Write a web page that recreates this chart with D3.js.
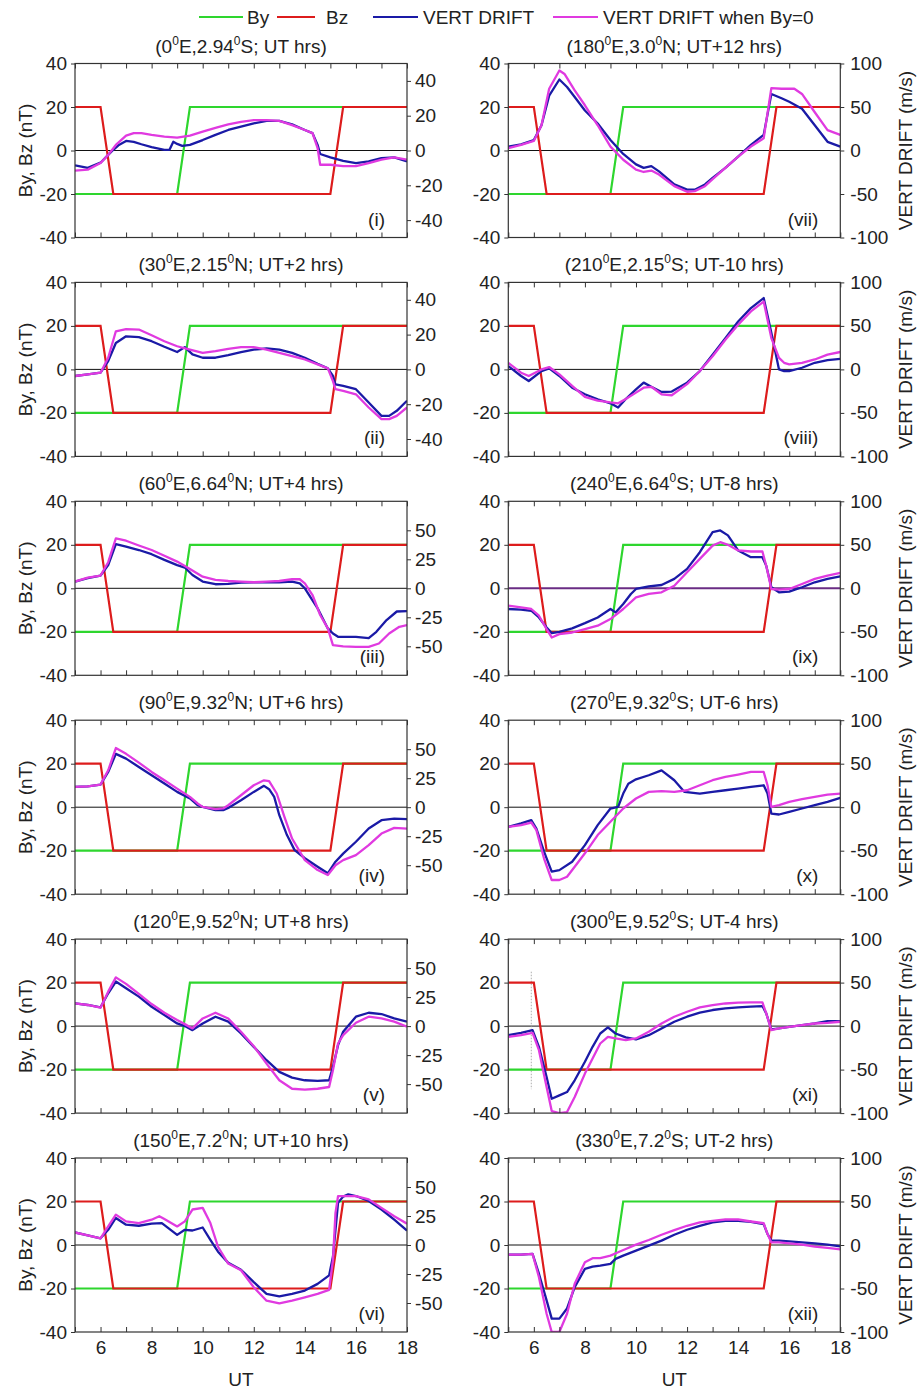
<!DOCTYPE html>
<html>
<head>
<meta charset="utf-8">
<script src="https://cdn.jsdelivr.net/npm/d3@7"></script>
<style>
  body { margin: 0; background: #fff; }
  text { font-family: "Liberation Sans", Arial, sans-serif; fill: #222; }
</style>
</head>
<body>
<div id="chart"></div>
<script>
// ---- data ----
const hourTicks = [5, 6, 7, 8, 9, 10, 11, 12, 13, 14, 15, 16, 17, 18];
const hourLabels = [6, 8, 10, 12, 14, 16, 18];
const leftTicks = [-40, -20, 0, 20, 40];

// IMF components (nT)
const byT = [5, 9, 9.5, 18];
const byV = [-20, -20, 20, 20];
const bzT = [5, 6, 6.5, 15, 15.5, 18];
const bzV = [20, 20, -20, -20, 20, 20];

const titles = [
  '(0^E,2.94^S; UT hrs)', '(30^E,2.15^N; UT+2 hrs)', '(60^E,6.64^N; UT+4 hrs)',
  '(90^E,9.32^N; UT+6 hrs)', '(120^E,9.52^N; UT+8 hrs)', '(150^E,7.2^N; UT+10 hrs)',
  '(180^E,3.0^N; UT+12 hrs)', '(210^E,2.15^S; UT-10 hrs)', '(240^E,6.64^S; UT-8 hrs)',
  '(270^E,9.32^S; UT-6 hrs)', '(300^E,9.52^S; UT-4 hrs)', '(330^E,7.2^S; UT-2 hrs)'
];
const romans = ['(i)', '(ii)', '(iii)', '(iv)', '(v)', '(vi)', '(vii)', '(viii)', '(ix)', '(x)', '(xi)', '(xii)'];
const rightMax = [50, 50, 75, 75, 75, 75, 100, 100, 100, 100, 100, 100];
const rightTicks = [
  [-40, -20, 0, 20, 40], [-40, -20, 0, 20, 40],
  [-50, -25, 0, 25, 50], [-50, -25, 0, 25, 50], [-50, -25, 0, 25, 50], [-50, -25, 0, 25, 50],
  [-100, -50, 0, 50, 100], [-100, -50, 0, 50, 100], [-100, -50, 0, 50, 100],
  [-100, -50, 0, 50, 100], [-100, -50, 0, 50, 100], [-100, -50, 0, 50, 100]
];

// vertical drift (m/s), [UT, value]
const vd_i = [[5,-8.5],[5.5,-10],[6,-7],[6.3,-2.5],[6.5,0.4],[6.7,3],[7,5.5],[7.3,5],[7.6,3.6],[8,2],[8.5,0.4],[8.7,0.4],[8.85,5],[9,3.8],[9.2,2.7],[9.5,3.2],[10,6],[10.5,9],[11,11.8],[11.5,13.7],[12,15.6],[12.5,17],[13,17],[13.5,15],[14,11.8],[14.3,10],[14.5,3.2],[14.6,-2],[15,-4],[15.5,-6],[16,-7.2],[16.5,-6.3],[17,-4.4],[17.5,-4],[18,-6.3]];
const vd0_i = [[5,-11.6],[5.5,-11],[6,-7.2],[6.3,-2.5],[6.6,3.2],[7,8.6],[7.3,10],[7.6,10],[8,9],[8.5,8],[9,7.4],[9.5,8.6],[10,10.8],[10.5,13],[11,15],[11.5,16.5],[12,17.5],[12.5,17.5],[13,17],[13.5,14.6],[14,11.8],[14.3,10],[14.5,1.3],[14.6,-8.2],[15,-8.2],[15.5,-9],[16,-9],[16.5,-7.2],[17,-5.3],[17.5,-4],[18,-5.3]];

const vd_ii = [[5,-3.8],[5.5,-2.9],[6,-1.9],[6.3,4.8],[6.6,15.2],[7,19],[7.5,18.5],[8,16.2],[8.5,13],[9,10],[9.3,12.8],[9.6,8.6],[10,6.7],[10.5,6.7],[11,8.2],[11.5,9.9],[12,11.4],[12.5,12],[13,11.4],[13.5,9.5],[14,6.7],[14.5,3.2],[14.9,0.6],[15.1,-3.8],[15.2,-8.6],[15.5,-9.5],[16,-11.4],[16.5,-19],[17,-26.7],[17.3,-26.7],[17.6,-23.8],[18,-18]];
const vd0_ii = [[5,-3.8],[5.5,-2.9],[6,-1.9],[6.3,6.7],[6.6,21.9],[7,23.2],[7.5,22.9],[8,19.6],[8.5,16.2],[9,13.3],[9.5,11.4],[10,9.5],[10.5,10.5],[11,11.8],[11.5,12.8],[12,12.8],[12.5,11.4],[13,9.5],[13.5,7.6],[14,5.7],[14.5,2.9],[14.9,0.6],[15.1,-6.7],[15.2,-11.4],[15.5,-12.4],[16,-14.3],[16.5,-21.9],[17,-28.6],[17.3,-28.6],[17.6,-26.7],[18,-21.9]];

const vd_iii = [[5,5.8],[5.5,8.7],[6,11],[6.3,20],[6.6,38],[7,36],[7.5,33],[8,29.4],[8.5,24.5],[9,20],[9.3,17.9],[9.6,11.5],[10,5.8],[10.5,3.5],[11,3.8],[11.5,4.9],[12,5.2],[12.5,5.2],[13,5.2],[13.5,5.8],[13.8,4.3],[14,0],[14.5,-17.3],[14.9,-34.6],[15.1,-39],[15.3,-41.8],[15.6,-41.8],[16,-41.8],[16.5,-43],[16.8,-37.5],[17.2,-27.4],[17.6,-20],[18,-19.6]];
const vd0_iii = [[5,5.8],[5.5,9.2],[6,11],[6.3,22.5],[6.6,43],[7,41],[7.5,36.9],[8,33],[8.5,28],[9,23],[9.5,16.7],[10,10],[10.5,7.2],[11,6.3],[11.5,5.8],[12,5.2],[12.5,5.8],[13,6.3],[13.5,7.8],[13.8,7.8],[14,4.3],[14.3,-5.8],[14.6,-23],[14.9,-34.6],[15.1,-49],[15.5,-50],[16,-50.5],[16.5,-50.5],[16.9,-47.6],[17.3,-39],[17.7,-33.2],[18,-31.7]];

const vd_iv = [[5,17.5],[5.5,18],[6,19.5],[6.3,30.4],[6.6,46],[7,41.9],[7.5,34.7],[8,27.5],[8.5,20.4],[9,13.2],[9.5,7.5],[9.8,1.7],[10,0.3],[10.5,-2.6],[10.8,-2.6],[11,-0.6],[11.5,6],[12,13.2],[12.4,18.4],[12.6,15.5],[12.8,8.9],[13,-6.9],[13.3,-24],[13.6,-37],[14,-44],[14.5,-51.3],[14.9,-57],[15.2,-47],[15.5,-40],[16,-29.8],[16.5,-18.4],[17,-11.2],[17.5,-9.8],[18,-10.3]];
const vd0_iv = [[5,17.5],[5.5,18],[6,19.5],[6.3,31.8],[6.6,51],[7,46],[7.5,38.4],[8,30.4],[8.5,23.2],[9,16],[9.5,8.9],[9.8,3.2],[10,0.3],[10.5,-1.7],[10.8,-1.1],[11,1.7],[11.5,10.3],[12,18.9],[12.4,23.2],[12.6,22.4],[12.9,11.8],[13.2,-8.3],[13.5,-27],[14,-45.6],[14.5,-54.2],[14.9,-58.5],[15.2,-50],[15.5,-45.6],[16,-41.3],[16.5,-32.7],[17,-22.7],[17.5,-17.8],[18,-18.4]];

const vd_v = [[5,19.6],[5.5,18.2],[6,16.2],[6.3,28.3],[6.6,38.4],[7,32.6],[7.5,25.4],[8,16.7],[8.5,9.5],[9,2.3],[9.3,0],[9.6,-3.5],[10,2.3],[10.5,8.1],[11,3.8],[11.5,-6.3],[12,-17.9],[12.5,-29.4],[13,-39.5],[13.5,-44.4],[14,-46.7],[14.5,-47.3],[14.95,-46.7],[15.1,-35.2],[15.3,-16.4],[15.5,-4.9],[16,8.1],[16.5,11.5],[17,10.4],[17.5,6.6],[18,3.8]];
const vd0_v = [[5,19.6],[5.5,18.2],[6,15.9],[6.3,29.7],[6.6,42],[7,36.4],[7.5,27.7],[8,19],[8.5,11.5],[9,5.2],[9.3,1.7],[9.6,-2],[10,6.6],[10.5,11.5],[11,6.6],[11.5,-4.9],[12,-17.3],[12.5,-32.3],[13,-46.7],[13.5,-54],[14,-54.8],[14.5,-54],[14.95,-52.5],[15.1,-38],[15.3,-15],[15.5,-7.8],[16,2.9],[16.5,8.1],[17,6.6],[17.5,3.8],[18,-0.6]];

const vd_vi = [[5,10.8],[5.5,8.2],[6,5.8],[6.3,13.1],[6.6,23.3],[7,17.5],[7.5,16.6],[8,18.4],[8.4,18.9],[9,8.7],[9.3,13.1],[9.6,12.5],[10,15.1],[10.3,4.4],[10.6,-5.8],[11,-15.4],[11.5,-21.3],[12,-32],[12.5,-42.2],[13,-44.3],[13.5,-42.2],[14,-39.3],[14.5,-33.5],[14.95,-26.2],[15.1,-10.2],[15.3,36.4],[15.5,41.7],[15.7,43.7],[16,42.2],[16.5,37.9],[17,30.6],[17.5,21.8],[18,12.5]];
const vd0_vi = [[5,10.8],[5.5,8.2],[6,5.8],[6.3,16],[6.6,26.2],[7,20.4],[7.5,18.9],[8,21.8],[8.3,24.8],[8.5,22.4],[9,16],[9.3,20.4],[9.6,30.6],[10,32],[10.3,18.9],[10.6,-1.5],[11,-16],[11.5,-21.8],[12,-36.4],[12.5,-48],[13,-50.4],[13.5,-48],[14,-45.1],[14.5,-42.2],[14.95,-38.7],[15.1,-13.1],[15.2,27.7],[15.3,42.2],[15.5,42.2],[16,42.2],[16.5,39.3],[17,32],[17.5,24.8],[18,18.4]];

const vd_vii = [[5,4.5],[5.5,7],[6,12],[6.3,29],[6.6,63],[7,81.6],[7.3,73],[7.6,61.5],[8,46],[8.5,31],[9,12],[9.5,-4],[10,-16],[10.3,-20],[10.6,-18],[10.9,-24],[11.5,-39],[12,-45],[12.3,-45],[12.7,-39],[13,-31.5],[13.5,-20],[14,-7],[14.5,6.5],[15,18],[15.3,65],[15.7,60],[16,56],[16.5,48],[17,29],[17.5,10],[18,4.5]];
const vd0_vii = [[5,2.7],[5.5,6.5],[6,11],[6.3,29],[6.6,71],[7,92],[7.2,88],[7.6,69],[8,52],[8.5,29],[9,4.5],[9.5,-10.6],[10,-22],[10.3,-24.7],[10.6,-23],[10.9,-27.7],[11.5,-41],[12,-47.4],[12.3,-46.7],[12.7,-41],[13,-33],[13.5,-20],[14,-7],[14.5,4.5],[15,14],[15.3,71.7],[15.7,71],[16.2,71],[16.5,65],[17,44],[17.5,23.5],[18,18]];

const vd_viii = [[5,3.8],[5.5,-7.6],[5.8,-13.3],[6.3,-1.9],[6.6,1.1],[7,-7.6],[7.5,-21],[8,-28.6],[8.5,-34.3],[9,-39],[9.3,-43.8],[9.6,-34],[10,-22.9],[10.3,-15.2],[10.6,-20],[11,-26],[11.4,-25.5],[12,-15.2],[12.5,-1.9],[13,17],[13.5,36],[14,55],[14.5,70.5],[15,82],[15.3,42],[15.6,0],[15.8,-1.9],[16,-1.9],[16.5,1.9],[17,7.6],[17.5,10.7],[18,12.2]];
const vd0_viii = [[5,7.6],[5.5,-3.8],[5.8,-7.6],[6.3,0],[6.6,2.7],[7,-5.7],[7.5,-19],[8,-31.6],[8.5,-36],[9,-38],[9.3,-39],[9.6,-34],[10,-26.7],[10.3,-21],[10.6,-20],[11,-28.6],[11.4,-29.7],[12,-17],[12.5,-1.9],[13,15.2],[13.5,34],[14,51.4],[14.5,66.7],[15,78],[15.3,36],[15.6,13.3],[15.8,7.6],[16,5.7],[16.5,7.6],[17,11.4],[17.5,17],[18,20]];

const vd_ix = [[5,-23.8],[5.5,-24.6],[5.9,-25.8],[6.2,-33.5],[6.5,-45],[6.7,-51.5],[7,-50],[7.5,-46],[8,-40],[8.5,-33.5],[9,-23.8],[9.2,-27.7],[9.5,-18],[9.8,-6.5],[10,-0.8],[10.5,2.3],[11,3.8],[11.5,10.8],[12,22.3],[12.5,41.5],[13,64.6],[13.3,66.5],[13.6,60.8],[14,43.5],[14.5,35.8],[14.95,35.8],[15.1,26],[15.3,1.2],[15.6,-4.6],[16,-3.8],[16.5,1.2],[17,6.9],[17.5,10.8],[18,13.8]];
const vd0_ix = [[5,-20],[5.5,-22],[5.9,-23.8],[6.2,-31.5],[6.5,-47],[6.7,-56.5],[7,-52.7],[7.5,-50.8],[8,-47],[8.5,-43],[9,-35.4],[9.5,-23.8],[10,-10.4],[10.5,-6.5],[11,-4.6],[11.5,3],[12,18.5],[12.5,33.8],[13,49],[13.3,53],[13.6,50],[14,43.5],[14.5,42.3],[14.95,42.3],[15.1,26],[15.3,-0.8],[15.6,-1.5],[16,-0.8],[16.5,5],[17,10.8],[17.5,14.6],[18,17.7]];

const vd_x = [[5,-22.6],[5.5,-18.7],[5.9,-14.9],[6.1,-24.5],[6.4,-51],[6.7,-74],[7,-72.3],[7.5,-62.7],[8,-43.6],[8.5,-20.6],[9,-1.5],[9.3,0.4],[9.5,15.7],[9.7,27],[10,32],[10.5,36.7],[11,42.4],[11.5,31],[11.9,17.6],[12.5,15.7],[13,17.6],[13.5,19.5],[14,21.4],[14.5,23.3],[15,25.2],[15.15,15.7],[15.3,-7.3],[15.6,-8.4],[16,-5.4],[16.5,-1.5],[17,2.3],[17.5,6.1],[18,10.7]];
const vd0_x = [[5,-22.6],[5.5,-20.6],[5.9,-17.6],[6.1,-26.4],[6.4,-59],[6.7,-83.7],[7,-83.7],[7.3,-80],[7.6,-68.4],[8,-53],[8.5,-32],[9,-16.8],[9.5,-1.5],[10,10],[10.5,17.6],[11,18.4],[11.5,17.6],[12,19.5],[12.5,25.2],[13,31],[13.5,34.8],[14,37.5],[14.5,40.5],[15,40.5],[15.15,25.2],[15.3,0.4],[15.6,2.3],[16,6.1],[16.5,9.2],[17,11.9],[17.5,14.5],[18,15.7]];

const vd_xi = [[5,-10.4],[5.5,-7.7],[5.95,-4.6],[6.2,-23.8],[6.5,-58.5],[6.7,-83.5],[7,-79.6],[7.3,-75.8],[7.6,-62.3],[8,-41],[8.3,-23.8],[8.6,-8.5],[8.9,-1.5],[9.2,-8.5],[9.6,-13],[10,-15.4],[10.5,-10.4],[11,-2.7],[11.5,5],[12,10.8],[12.5,15.4],[13,18.5],[13.5,20.4],[14,21.5],[14.5,22.3],[14.95,23],[15.1,14.6],[15.3,-3.8],[15.6,-2.7],[16,-0.8],[16.5,1.2],[17,3],[17.5,5.8],[18,5.8]];
const vd0_xi = [[5,-12.3],[5.5,-10.4],[5.95,-7.7],[6.2,-27.7],[6.5,-70],[6.7,-97.7],[7,-100],[7.3,-98.8],[7.6,-81.5],[8,-54.6],[8.3,-37.3],[8.6,-20],[8.9,-12.3],[9.2,-14.2],[9.6,-16.2],[10,-14.2],[10.5,-6.5],[11,3],[11.5,10.8],[12,16.5],[12.5,21.5],[13,24.2],[13.5,26],[14,27],[14.5,27.3],[14.95,27.3],[15.1,14.6],[15.3,-4.6],[15.6,-2.7],[16,-0.8],[16.5,1.2],[17,3],[17.5,3.8],[18,5]];

const vd_xii = [[5,-11],[5.5,-11],[5.95,-10.3],[6.2,-33],[6.5,-63.6],[6.7,-84.6],[7,-84.6],[7.3,-73],[7.6,-48.4],[8,-27.4],[8.3,-24.8],[8.6,-23.6],[9,-21.7],[9.2,-16],[9.5,-12.2],[10,-6.5],[10.5,-0.8],[11,5],[11.5,11.8],[12,17.5],[12.5,22],[13,25.9],[13.5,27.8],[14,27.8],[14.5,26.7],[15,24],[15.15,12.6],[15.3,5],[15.6,5],[16,4.2],[16.5,3],[17,1.9],[17.5,0.4],[18,-1.5]];
const vd0_xii = [[5,-11],[5.5,-11],[5.95,-10.3],[6.2,-37],[6.5,-79],[6.7,-100],[7,-100],[7.3,-79],[7.6,-44.6],[8,-19.8],[8.3,-15.2],[8.6,-15.2],[9,-12.2],[9.3,-8.4],[9.6,-4.6],[10,0.4],[10.5,5.7],[11,11.8],[11.5,17.1],[12,22.1],[12.5,25.9],[13,27.8],[13.5,29.3],[14,29.3],[14.5,27],[15,25],[15.15,12.6],[15.3,3],[15.6,3],[16,1.9],[16.5,0.4],[17,-1.9],[17.5,-3.4],[18,-5]];

const drift = [vd_i, vd_ii, vd_iii, vd_iv, vd_v, vd_vi, vd_vii, vd_viii, vd_ix, vd_x, vd_xi, vd_xii];
const driftBy0 = [vd0_i, vd0_ii, vd0_iii, vd0_iv, vd0_v, vd0_vi, vd0_vii, vd0_viii, vd0_ix, vd0_x, vd0_xi, vd0_xii];

// ---- layout ----
const W = 922, H = 1389;
const colX = [75, 508.3];
const rowY0 = 63.5, rowStep = 218.9;
const pw = 332, ph = 174;
const cBy = '#2ed62e', cBz = '#dd1c1c', cVd = '#1a1aa6', cVd0 = '#e03ae0';
const fs = 19;
const plain = d => String(d);   // hyphen minus, as in the original figure

const svg = d3.select('#chart').append('svg')
  .attr('width', W).attr('height', H)
  .attr('viewBox', `0 0 ${W} ${H}`);

// Legend
const legend = [
  { x1: 199, x2: 243, tx: 247, color: cBy, label: 'By' },
  { x1: 277, x2: 315, tx: 326, color: cBz, label: 'Bz' },
  { x1: 373, x2: 418, tx: 423, color: cVd, label: 'VERT DRIFT' },
  { x1: 553, x2: 598, tx: 603, color: cVd0, label: 'VERT DRIFT when By=0' }
];
const lg = svg.append('g').classed('legend', true);
legend.forEach(d => {
  lg.append('line').attr('x1', d.x1).attr('x2', d.x2).attr('y1', 17).attr('y2', 17)
    .attr('stroke', d.color).attr('stroke-width', 2);
  lg.append('text').attr('x', d.tx).attr('y', 24).attr('font-size', fs).text(d.label);
});

const xScale = d3.scaleLinear().domain([5, 18]).range([0, pw]);
const yLeft = d3.scaleLinear().domain([-40, 40]).range([ph, 0]);

const byData = byT.map((t, k) => [t, byV[k]]);
const bzData = bzT.map((t, k) => [t, bzV[k]]);

titles.forEach((title, idx) => {
  const col = idx < 6 ? 0 : 1;
  const row = idx % 6;
  const g = svg.append('g')
    .attr('transform', `translate(${colX[col]},${rowY0 + row * rowStep})`);

  const yRight = d3.scaleLinear().domain([-rightMax[idx], rightMax[idx]]).range([ph, 0]);

  g.append('defs').append('clipPath').attr('id', 'clip' + idx)
    .append('rect').attr('width', pw).attr('height', ph);

  const content = g.append('g').attr('clip-path', `url(#clip${idx})`);

  // zero line
  content.append('line')
    .attr('x1', 0).attr('x2', pw)
    .attr('y1', yLeft(0)).attr('y2', yLeft(0))
    .attr('stroke', idx === 8 ? '#6a2c84' : '#111')
    .attr('stroke-width', idx === 8 ? 2 : 1);

  if (idx === 10) {
    content.append('line')
      .attr('x1', xScale(5.9)).attr('x2', xScale(5.9))
      .attr('y1', yLeft(25)).attr('y2', yLeft(-29))
      .attr('stroke', '#999').attr('stroke-width', 0.8)
      .attr('stroke-dasharray', '1.5 1.5');
  }

  const lineL = d3.line().x(d => xScale(d[0])).y(d => yLeft(d[1]));
  const lineR = d3.line().x(d => xScale(d[0])).y(d => yRight(d[1]));

  content.append('path').datum(byData)
    .attr('fill', 'none').attr('stroke', cBy).attr('stroke-width', 2.2).attr('d', lineL);
  content.append('path').datum(bzData)
    .attr('fill', 'none').attr('stroke', cBz).attr('stroke-width', 2.2).attr('d', lineL);
  content.append('path').datum(drift[idx])
    .attr('fill', 'none').attr('stroke', cVd).attr('stroke-width', 2.3)
    .attr('stroke-linejoin', 'round').attr('d', lineR);
  content.append('path').datum(driftBy0[idx])
    .attr('fill', 'none').attr('stroke', cVd0).attr('stroke-width', 2.3)
    .attr('stroke-linejoin', 'round').attr('d', lineR);

  // frame
  g.append('rect').attr('width', pw).attr('height', ph)
    .attr('fill', 'none').attr('stroke', '#333').attr('stroke-width', 1.2);

  // x ticks (inward, top and bottom)
  const bottom = row === 5;
  const xb = g.append('g').attr('transform', `translate(0,${ph})`)
    .call(d3.axisBottom(xScale).tickValues(hourTicks).tickSizeInner(-5).tickSizeOuter(0)
      .tickFormat(d => (bottom && hourLabels.includes(d)) ? d : ''));
  const xt = g.append('g')
    .call(d3.axisTop(xScale).tickValues(hourTicks).tickSizeInner(-5).tickSizeOuter(0).tickFormat(''));
  [xb, xt].forEach(a => {
    a.select('.domain').remove();
    a.selectAll('line').attr('stroke', '#333');
  });
  xb.selectAll('text').attr('font-size', fs).attr('dy', '1.0em').attr('fill', '#222');

  // left axis
  const yl = g.append('g')
    .call(d3.axisLeft(yLeft).tickValues(leftTicks).tickSizeInner(4).tickSizeOuter(0)
      .tickPadding(4).tickFormat(plain));
  yl.select('.domain').remove();
  yl.selectAll('line').attr('stroke', '#333');
  yl.selectAll('text').attr('font-size', fs).attr('fill', '#222');

  // right axis
  const yr = g.append('g').attr('transform', `translate(${pw},0)`)
    .call(d3.axisRight(yRight).tickValues(rightTicks[idx]).tickSizeInner(4).tickSizeOuter(0)
      .tickPadding(col ? 6 : 4).tickFormat(plain));
  yr.select('.domain').remove();
  yr.selectAll('line').attr('stroke', '#333');
  yr.selectAll('text').attr('font-size', fs).attr('fill', '#222');

  // title with superscript degree zeros
  const tt = g.append('text').attr('x', pw / 2).attr('y', -11)
    .attr('text-anchor', 'middle').attr('font-size', fs);
  title.split('^').forEach((part, k) => {
    if (k > 0) {
      tt.append('tspan').attr('font-size', 12).attr('dy', -8).text('0');
      tt.append('tspan').attr('dy', 8).text(part);
    } else {
      tt.append('tspan').text(part);
    }
  });

  // panel label
  g.append('text').attr('x', pw - 22).attr('y', ph - 12)
    .attr('text-anchor', 'end').attr('font-size', fs).text(romans[idx]);

  // axis titles
  if (col === 0) {
    g.append('text')
      .attr('transform', `translate(${32 - colX[0]},${ph / 2}) rotate(-90)`)
      .attr('text-anchor', 'middle').attr('font-size', fs).text('By, Bz (nT)');
  } else {
    g.append('text')
      .attr('transform', `translate(${912 - colX[1]},${ph / 2}) rotate(-90)`)
      .attr('text-anchor', 'middle').attr('font-size', fs).text('VERT DRIFT (m/s)');
  }
  if (bottom) {
    g.append('text').attr('x', pw / 2).attr('y', ph + 54)
      .attr('text-anchor', 'middle').attr('font-size', fs).text('UT');
  }
});
</script>
</body>
</html>
